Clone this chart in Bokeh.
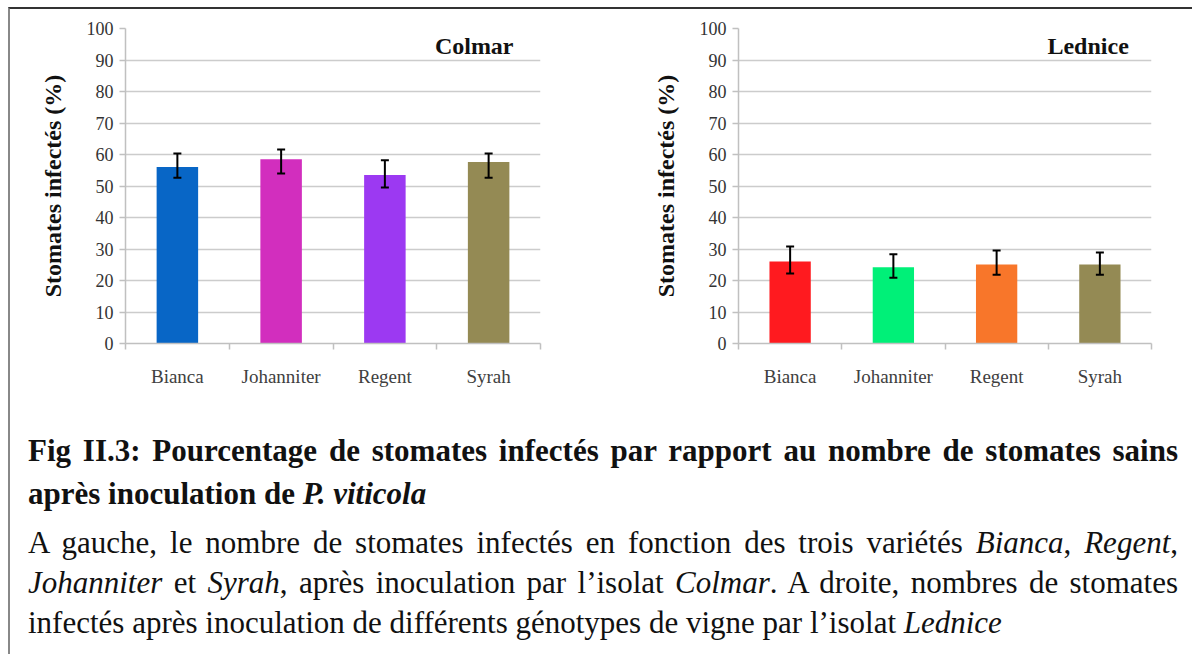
from bokeh.plotting import figure
from bokeh.models import Range1d, FixedTicker, Whisker, ColumnDataSource, Label, Div, TeeHead
from bokeh.layouts import row, column
from bokeh.embed import file_html
from bokeh.resources import INLINE

# ---------------- data ----------------
varieties = ["Bianca", "Johanniter", "Regent", "Syrah"]

colmar_values = [56.0, 58.5, 53.5, 57.6]
colmar_upper = [60.3, 61.6, 58.2, 60.3]
colmar_lower = [52.6, 54.0, 49.5, 52.6]
colmar_colors = ["#0866C6", "#D22EBE", "#9C39F2", "#948A54"]

lednice_values = [26.0, 24.2, 25.1, 25.1]
lednice_upper = [30.8, 28.3, 29.5, 28.9]
lednice_lower = [22.2, 20.9, 21.8, 21.8]
lednice_colors = ["#FF1A1F", "#00F078", "#F8762A", "#948A54"]

y_ticks = [0, 10, 20, 30, 40, 50, 60, 70, 80, 90, 100]
y_label = "Stomates infectés (%)"

caption_lines = [
    ("bold", "justify", "Fig II.3: Pourcentage de stomates infectés par rapport au nombre de stomates sains"),
    ("bold", "left", "après inoculation de <i>P. viticola</i>"),
    ("normal", "justify", "A gauche, le nombre de stomates infectés en fonction des trois variétés "
                          "<i>Bianca</i>, <i>Regent</i>,"),
    ("normal", "justify", "<i>Johanniter</i> et <i>Syrah</i>, après inoculation par l\u2019isolat "
                          "<i>Colmar</i>. A droite, nombres de stomates"),
    ("normal", "left", "infectés après inoculation de différents génotypes de vigne par l\u2019isolat "
                       "<i>Lednice</i>"),
]

SERIF = "Liberation Serif"


def make_chart(title, values, lower, upper, colors, width, mbl, mbr, title_x, title_y):
    n = len(varieties)
    xs = [i + 1 for i in range(n)]
    src = ColumnDataSource(dict(x=xs, top=values, lower=lower, upper=upper, color=colors))
    p = figure(width=width, height=400,
               x_range=Range1d(0.5, n + 0.5), y_range=Range1d(0, 100),
               output_backend="svg", toolbar_location=None,
               min_border_left=mbl, min_border_right=mbr,
               min_border_top=19, min_border_bottom=66)
    p.outline_line_color = None
    p.background_fill_color = "white"
    p.border_fill_color = "white"

    p.vbar(x="x", top="top", bottom=0, width=0.4, color="color", line_color=None, source=src)

    w = Whisker(source=src, base="x", upper="upper", lower="lower",
                line_color="black", line_width=2, level="overlay",
                upper_head=TeeHead(size=8, line_width=2, line_color="black"),
                lower_head=TeeHead(size=8, line_width=2, line_color="black"))
    p.add_layout(w)

    # grid
    p.xgrid.visible = False
    p.ygrid.ticker = FixedTicker(ticks=y_ticks)
    p.ygrid.grid_line_color = "#cccccc"
    p.ygrid.grid_line_width = 1.5

    # y axis
    p.yaxis.ticker = FixedTicker(ticks=y_ticks)
    p.yaxis.axis_line_color = "#c0c0c0"
    p.yaxis.axis_line_width = 1.5
    p.yaxis.major_tick_line_color = "#c0c0c0"
    p.yaxis.major_tick_line_width = 1.5
    p.yaxis.major_tick_out = 6
    p.yaxis.major_tick_in = 0
    p.yaxis.minor_tick_line_color = None
    p.yaxis.major_label_standoff = 6
    p.yaxis.major_label_text_font = SERIF
    p.yaxis.major_label_text_font_size = "18px"
    p.yaxis.major_label_text_color = "#333333"
    p.yaxis.axis_label = y_label
    p.yaxis.axis_label_text_font = SERIF
    p.yaxis.axis_label_text_font_style = "bold"
    p.yaxis.axis_label_text_font_size = "24px"
    p.yaxis.axis_label_text_color = "#111111"
    p.yaxis.axis_label_standoff = 18

    # x axis: labels at category centres, small ticks at the category boundaries
    p.xaxis.ticker = FixedTicker(ticks=xs, minor_ticks=[i + 0.5 for i in range(n + 1)])
    p.xaxis.major_label_overrides = {x: name for x, name in zip(xs, varieties)}
    p.xaxis.major_tick_line_color = None
    p.xaxis.major_tick_out = 0
    p.xaxis.major_tick_in = 0
    p.xaxis.minor_tick_line_color = "#c0c0c0"
    p.xaxis.minor_tick_line_width = 1.5
    p.xaxis.minor_tick_out = 6
    p.xaxis.minor_tick_in = 0
    p.xaxis.axis_line_color = "#c0c0c0"
    p.xaxis.axis_line_width = 1.5
    p.xaxis.major_label_standoff = 16
    p.xaxis.major_label_text_font = SERIF
    p.xaxis.major_label_text_font_size = "19px"
    p.xaxis.major_label_text_color = "#404040"

    p.add_layout(Label(x=title_x, y=title_y, text=title, text_align="right",
                       text_baseline="middle", text_font=SERIF, text_font_style="bold",
                       text_font_size="24px", text_color="#111111"))
    return p


p1 = make_chart("Colmar", colmar_values, colmar_lower, colmar_upper, colmar_colors,
                width=590, mbl=115, mbr=60, title_x=4.24, title_y=94.4)
p2 = make_chart("Lednice", lednice_values, lednice_lower, lednice_upper, lednice_colors,
                width=592, mbl=138, mbr=41, title_x=4.28, title_y=94.6)

line_divs = []
for i, (weight, align, html) in enumerate(caption_lines):
    lh = 43 if weight == "bold" else 40
    top = "margin-top:8px;" if i == 2 else ""
    line_divs.append(
        f'<div style="font-weight:{weight}; font-size:31px; line-height:{lh}px; white-space:normal;'
        f' text-align:{align}; text-align-last:{align}; {top}">{html}</div>'
    )

caption_html = (
    '<div style="font-family:\'Liberation Serif\',\'Times New Roman\',serif; color:#111;'
    ' padding:20px 0 0 18px; width:1150px; box-sizing:content-box;">'
    + "".join(line_divs) +
    '</div>'
)
caption = Div(text=caption_html, width=1182, height=245,
              styles={"overflow": "visible", "padding": "0", "margin": "0"})

layout = column(row(p1, p2), caption, margin=(7, 0, 0, 8),
                styles={"border-top": "2px solid #333333", "border-left": "2px solid #888888",
                        "background-color": "white"})

open("out.html", "w").write(file_html(layout, INLINE))
